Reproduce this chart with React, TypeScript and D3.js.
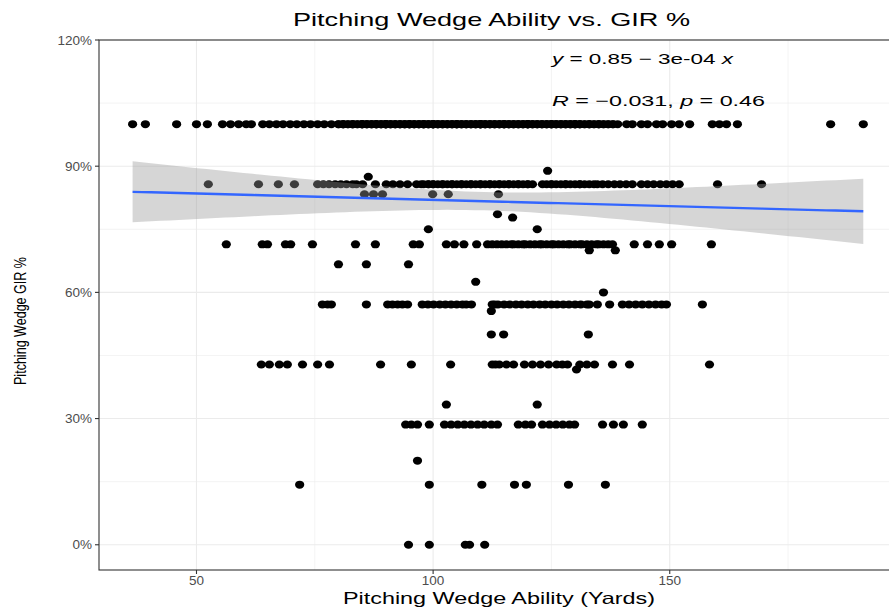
import React from "react";
import * as d3 from "d3";

const W = 889;
const H = 608;

// Pitching wedge distance (yards) of each player, grouped by green-in-regulation rate
const gir100 = [
  36.5, 39.2, 45.8, 50.0, 52.3, 55.5, 57.2, 58.9, 60.5, 61.6,
  64.0, 65.4, 66.9, 68.3, 69.8, 71.2, 72.7, 74.1, 75.6, 77.0, 78.5,
  80, 80, 81, 81, 81, 82, 82, 83, 83, 83, 84, 84, 85, 85, 85, 85, 86, 86, 86,
  87, 87, 87, 88, 88, 88, 88, 89, 89, 89, 90, 90, 90, 90, 90, 91, 91, 91,
  92, 92, 92, 93, 93, 93, 94, 94, 94, 95, 95, 95, 95, 96, 96, 96, 97, 97, 97,
  98, 98, 98, 98, 99, 99, 99, 100, 100, 100, 100, 100, 101, 101, 101,
  102, 102, 102, 103, 103, 103, 104, 104, 104, 105, 105, 105, 105,
  106, 106, 106, 107, 107, 107, 108, 108, 108, 109, 109, 109,
  110, 110, 110, 110, 110, 111, 111, 111, 112, 112, 112, 113, 113, 113,
  114, 114, 114, 115, 115, 115, 115, 116, 116, 116, 117, 117, 117,
  118, 118, 118, 119, 119, 119, 120, 120, 120, 120, 120, 121, 121, 121,
  122, 122, 122, 123, 123, 123, 124, 124, 124, 125, 125, 125, 125,
  126, 126, 126, 127, 127, 127, 128, 128, 128, 129, 129, 129,
  130, 130, 130, 130, 131, 131, 131, 132, 132, 133, 133, 133, 134, 134,
  135, 135, 135, 136, 136, 137, 137, 138, 138,
  139.0, 140.9, 142.1, 144.0, 145.3, 147.2, 148.5, 150.4, 152.0, 154.2,
  159.0, 160.5, 162.0, 164.3, 184.0, 190.9,
];
const gir889 = [124.2];
const gir875 = [86.3];
const gir857 = [
  52.5, 63.1, 67.3, 70.7,
  75.6, 76.8, 78.0, 79.3, 80.5, 81.7, 83.0, 83.8, 85.1, 87.8,
  90.1, 91.5, 93.0, 94.6,
  96.5, 97.5, 98, 99, 99, 100, 100, 101, 102, 102, 103, 104, 104, 105, 106, 106,
  107, 108, 108, 109, 110, 110, 111, 112, 112, 113, 114, 114, 115, 116, 116,
  117, 118, 118, 119, 120, 120, 121,
  123.1, 124, 125, 125, 126, 127, 128, 128, 129, 130, 131, 131, 132, 133, 134, 134.7,
  135.8, 137.0, 138.3, 139.5, 140.8, 142.1,
  144.0, 145.3, 146.6, 148.0, 149.3, 150.6, 152.0,
  160.1, 169.4,
];
const gir833 = [85.5, 87.4, 89.3, 99.9, 103.2, 113.8];
const gir786 = [113.6];
const gir778 = [116.8];
const gir750 = [99.0, 122.0];
const gir714 = [
  56.3, 63.9, 65.0, 68.8, 69.9, 74.5, 83.6, 87.8, 95.8, 97.1,
  102.8, 104.5, 106.5, 109.2,
  111.5, 112.5, 113.5, 114.5, 115.5, 116.5, 117, 118, 119, 119.5, 120.5, 121.5,
  122.5, 123, 124, 125, 125.5, 126.5, 127.5, 128.5, 129, 130, 131, 131.5, 132.5,
  133.5, 134.5, 135, 136, 137, 137.9,
  142.5, 145.3, 147.8, 150.4, 158.8,
];
const gir700 = [133.0, 138.5];
const gir667 = [80.0, 85.9, 94.8];
const gir625 = [109.0];
const gir600 = [136.0];
const gir571 = [
  76.6, 77.7, 78.5, 85.9, 90.4, 91.4, 92.5, 93.5, 94.6,
  97.7, 98.9, 100.1, 101.4, 102.6, 103.8, 105.0, 106.2, 107.0, 108.1,
  112.5, 113.0, 113.7, 115.0, 116.2, 117.5, 118.7, 120.0, 121.2, 122.5, 123.7,
  125.0, 126.2, 127.5, 128.7, 130.0, 131.2, 132.5, 133.0,
  134.7, 137.3,
  140.0, 141.4, 142.8, 144.2, 145.6, 147.0, 148.3, 149.3,
  156.9,
];
const gir556 = [112.3];
const gir500 = [112.3, 114.9, 132.8];
const gir429 = [
  63.7, 65.4, 67.5, 69.2, 72.4, 75.6, 78.1, 88.9, 95.4, 103.7,
  112.5, 113.2, 114.0, 115.5, 117.0,
  119.3, 121.0, 122.7, 124.4, 126.1, 127.3, 128.4, 131.0, 132.5, 134.1,
  137.9, 141.5, 158.4,
];
const gir417 = [130.3];
const gir333 = [102.8, 122.0];
const gir286 = [
  94.2, 95.4, 96.7, 99.2, 102.4, 103.8, 105.2, 106.6, 108.0, 109.4, 110.8, 112.3,
  113.6, 118.0, 119.5, 120.8, 123.1, 124.6, 126.0, 127.4, 128.8, 129.9,
  135.8, 138.1, 140.2, 144.2,
];
const gir200 = [96.7];
const gir143 = [71.8, 99.2, 110.3, 117.2, 119.7, 128.6, 136.4];
const gir000 = [94.8, 99.2, 106.8, 107.7, 110.9];

const girLevels: [number, number[]][] = [
  [1.0, gir100], [8 / 9, gir889], [7 / 8, gir875], [6 / 7, gir857], [5 / 6, gir833],
  [11 / 14, gir786], [7 / 9, gir778], [0.75, gir750], [5 / 7, gir714], [0.7, gir700],
  [2 / 3, gir667], [0.625, gir625], [0.6, gir600], [4 / 7, gir571], [5 / 9, gir556],
  [0.5, gir500], [3 / 7, gir429], [5 / 12, gir417], [1 / 3, gir333], [2 / 7, gir286],
  [0.2, gir200], [1 / 7, gir143], [0, gir000],
];

// Fitted regression: y = 0.85 - 3e-04 x, R = -0.031, p = 0.46
const intercept = 0.85;
const slope = -0.0003;

const xTicks = [50, 100, 150];
const xMinor = [75, 125, 175];
const yTicks = [0, 0.3, 0.6, 0.9, 1.2];
const yMinor = [0.15, 0.45, 0.75, 1.05];

const FONT = "'Liberation Sans', Arial, Helvetica, sans-serif";

export default function App() {
  const left = 99;
  const right = 904;
  const top = 40;
  const bottom = 570;
  const x = d3.scaleLinear().domain([29.4, 199.5]).range([left, right]);
  const y = d3.scaleLinear().domain([-0.06, 1.2]).range([bottom, top]);

  const points = girLevels.flatMap(([g, xs]) => xs.map((v) => ({ x: v, y: g })));
  const n = points.length;
  const xbar = d3.mean(points, (d) => d.x) as number;
  const sxx = d3.sum(points, (d) => (d.x - xbar) ** 2);
  const sse = d3.sum(points, (d) => (d.y - (intercept + slope * d.x)) ** 2);
  const s = Math.sqrt(sse / (n - 2));
  const tcrit = 1.9647;
  const [xmin, xmax] = d3.extent(points, (d) => d.x) as [number, number];
  const grid = d3.range(80).map((i) => xmin + (i * (xmax - xmin)) / 79);
  const band = grid.map((gx) => {
    const fit = intercept + slope * gx;
    const se = s * Math.sqrt(1 / n + (gx - xbar) ** 2 / sxx);
    return { x: gx, fit, lo: fit - tcrit * se, hi: fit + tcrit * se };
  });
  const area = d3
    .area<{ x: number; lo: number; hi: number }>()
    .x((d) => x(d.x))
    .y0((d) => y(d.lo))
    .y1((d) => y(d.hi));
  const line = d3
    .line<{ x: number; fit: number }>()
    .x((d) => x(d.x))
    .y((d) => y(d.fit));

  const pct = d3.format(".0%");

  return (
    <svg
      width={W}
      height={H}
      style={{ position: "absolute", left: 0, top: 0, display: "block", background: "#fff" }}
      fontFamily={FONT}
    >
      <defs>
        <clipPath id="panel">
          <rect x={left} y={top} width={right - left} height={bottom - top} />
        </clipPath>
      </defs>
      <rect x={0} y={0} width={W} height={H} fill="#fff" />

      {/* grid */}
      <g stroke="#EBEBEB">
        {xMinor.map((t) => (
          <line key={"xm" + t} x1={x(t)} x2={x(t)} y1={top} y2={bottom} strokeWidth={0.6} />
        ))}
        {yMinor.map((t) => (
          <line key={"ym" + t} x1={left} x2={right} y1={y(t)} y2={y(t)} strokeWidth={0.6} />
        ))}
        {xTicks.map((t) => (
          <line key={"xM" + t} x1={x(t)} x2={x(t)} y1={top} y2={bottom} strokeWidth={1.1} />
        ))}
        {yTicks.map((t) => (
          <line key={"yM" + t} x1={left} x2={right} y1={y(t)} y2={y(t)} strokeWidth={1.1} />
        ))}
      </g>

      {/* points */}
      <g clipPath="url(#panel)" fill="#000">
        {points.map((p, i) => (
          <ellipse key={i} cx={x(p.x)} cy={y(p.y)} rx={4.6} ry={4} />
        ))}
      </g>

      {/* confidence band and fit */}
      <path d={area(band) ?? ""} fill="#999999" fillOpacity={0.4} />
      <path d={line(band) ?? ""} fill="none" stroke="#3366FF" strokeWidth={2.4} />

      {/* panel border */}
      <rect x={left} y={top} width={right - left} height={bottom - top} fill="none" stroke="#333" strokeWidth={1.1} />

      {/* axis ticks and labels */}
      <g stroke="#333" strokeWidth={1.1}>
        {yTicks.map((t) => (
          <line key={"yt" + t} x1={left - 4} x2={left} y1={y(t)} y2={y(t)} />
        ))}
        {xTicks.map((t) => (
          <line key={"xt" + t} x1={x(t)} x2={x(t)} y1={bottom} y2={bottom + 4} />
        ))}
      </g>
      <g fill="#4D4D4D" fontSize={13.5}>
        {yTicks.map((t) => (
          <text key={"yl" + t} x={left - 7} y={y(t)} dy="0.35em" textAnchor="end">
            {pct(t)}
          </text>
        ))}
        {xTicks.map((t) => (
          <text key={"xl" + t} x={x(t)} y={bottom + 10} dy="0.35em" textAnchor="middle">
            {t}
          </text>
        ))}
      </g>

      {/* titles */}
      <text x={293} y={26} fontSize={19} fill="#000" textLength={397} lengthAdjust="spacingAndGlyphs">
        Pitching Wedge Ability vs. GIR %
      </text>
      <text x={343} y={604} fontSize={16.5} fill="#000" textLength={312} lengthAdjust="spacingAndGlyphs">
        Pitching Wedge Ability (Yards)
      </text>
      <text
        transform="translate(26,385) rotate(-90)"
        x={0}
        y={0}
        fontSize={17}
        fill="#000"
        textLength={128}
        lengthAdjust="spacingAndGlyphs"
      >
        Pitching Wedge GIR %
      </text>

      {/* regression annotation */}
      <text x={552} y={64} fontSize={15} fill="#000" textLength={181} lengthAdjust="spacingAndGlyphs">
        <tspan fontStyle="italic">y</tspan> = 0.85 − 3e-04 <tspan fontStyle="italic">x</tspan>
      </text>
      <text x={552} y={106} fontSize={15} fill="#000" textLength={213} lengthAdjust="spacingAndGlyphs">
        <tspan fontStyle="italic">R</tspan> = −0.031, <tspan fontStyle="italic">p</tspan> = 0.46
      </text>
    </svg>
  );
}
